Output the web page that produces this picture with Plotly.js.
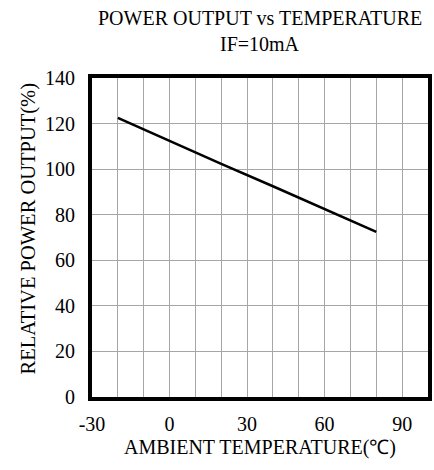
<!DOCTYPE html>
<html><head><meta charset="utf-8">
<script src="https://cdn.plot.ly/plotly-3.0.1.min.js"></script>
<style>html,body{margin:0;padding:0;background:#fff}#chart{width:434px;height:470px}</style>
</head><body><div id="chart"></div>
<script>
const temperature = [-20, 0, 20, 40, 60, 80];
const relativePower = [122.5, 112.3, 102.3, 92.5, 82.5, 72.5];
const xTicks = [-30, 0, 30, 60, 90];
const yTicks = [0, 20, 40, 60, 80, 100, 120, 140];
const titleLines = ['POWER OUTPUT vs TEMPERATURE', 'IF=10mA'];
const yTitle = 'RELATIVE POWER OUTPUT(%)';
const xTitle = 'AMBIENT TEMPERATURE(℃)';

const fam = 'Liberation Serif, Times New Roman, serif';
const font = {family: fam, color: '#000', size: 20};
const trace = {x: temperature, y: relativePower, mode: 'lines', line: {color: '#000', width: 2.5}, hoverinfo: 'skip'};
const layout = {
  width: 434, height: 470,
  margin: {l: 92, r: 6, t: 78, b: 73},
  paper_bgcolor: '#fff', plot_bgcolor: '#fff',
  font: font,
  showlegend: false,
  annotations: [
    {text: titleLines[0], xref: 'paper', yref: 'paper', x: 0.5, y: 1, yshift: 60, xanchor: 'center', yanchor: 'middle', showarrow: false, font: font},
    {text: titleLines[1], xref: 'paper', yref: 'paper', x: 0.5, y: 1, yshift: 34, xanchor: 'center', yanchor: 'middle', showarrow: false, font: font},
    {text: yTitle, xref: 'paper', yref: 'paper', x: 0, y: 0.5, xshift: -64, yshift: 9, textangle: -90, xanchor: 'center', yanchor: 'middle', showarrow: false, font: {family: fam, color: '#000', size: 20.5}}
  ],
  xaxis: {
    range: [-30, 100], tickvals: xTicks, ticktext: xTicks.map(String),
    showgrid: true, gridcolor: '#a6a6a6', gridwidth: 1,
    minor: {dtick: 10, tick0: -30, showgrid: true, gridcolor: '#a6a6a6', gridwidth: 1},
    showline: true, linecolor: '#000', linewidth: 4, mirror: true,
    ticks: 'outside', ticklen: 6, tickcolor: 'rgba(0,0,0,0)', zeroline: false, tickfont: font,
    title: {text: xTitle, font: font, standoff: 7}
  },
  yaxis: {
    range: [0, 140], tickvals: yTicks, ticktext: yTicks.map(String),
    showgrid: true, gridcolor: '#a6a6a6', gridwidth: 1,
    showline: true, linecolor: '#000', linewidth: 4, mirror: true,
    ticks: 'outside', ticklen: 9, tickcolor: 'rgba(0,0,0,0)', zeroline: false, tickfont: font
  }
};
Plotly.newPlot('chart', [trace], layout, {staticPlot: true, displayModeBar: false});
</script></body></html>
